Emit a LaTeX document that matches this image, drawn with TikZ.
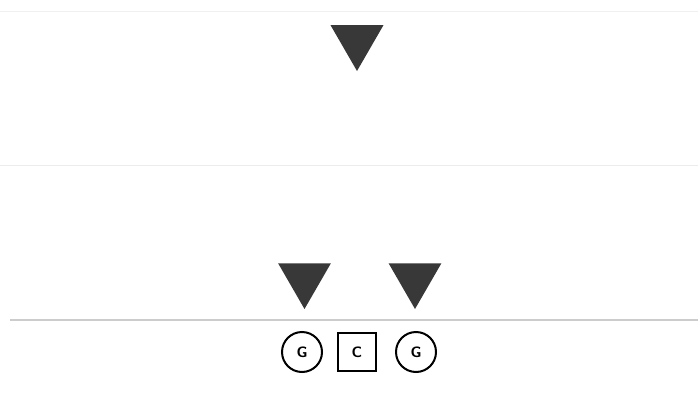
\documentclass[tikz,border=0pt]{standalone}
\usepackage{xcolor}
\usepackage{tikz}
\usetikzlibrary{shapes.geometric}
\usetikzlibrary{calc,positioning}

\begin{document}
\begin{tikzpicture}[x=1pt, y=-1pt,
    defender/.style={regular polygon, regular polygon sides=3, shape border rotate=180,
        fill=black!78, inner sep=0pt, minimum size=61pt},
    guard/.style={circle, draw, line width=2pt, inner sep=0pt, minimum size=40pt,
        font=\sffamily\bfseries\fontsize{15}{15}\selectfont},
    center/.style={rectangle, draw, line width=2pt, inner sep=0pt, minimum size=38pt,
        font=\sffamily\bfseries\fontsize{15}{15}\selectfont}]

    \useasboundingbox[fill=white] (0,0) rectangle (698,396);

    % Field lines
    \draw[gray!12, line width=1pt] (0,12) -- (698,12);
    \draw[gray!15, line width=1pt] (0,165) -- (698,165);
    \draw[gray!40, line width=1.5pt] (10,320) -- (698,320);

    % Defenders
    \node[defender] (safety) at (357,40.5) {};
    \node[defender] (tackleL) at (304.5,278.5) {};
    \node[defender] (tackleR) at (415,278.5) {};

    % Offensive line
    \node[center] (snap) at (357,352) {C};
    \node[guard] (guardL) at (302,352) {G};
    \node[guard] (guardR) at (416,352) {G};
\end{tikzpicture}
\end{document}
